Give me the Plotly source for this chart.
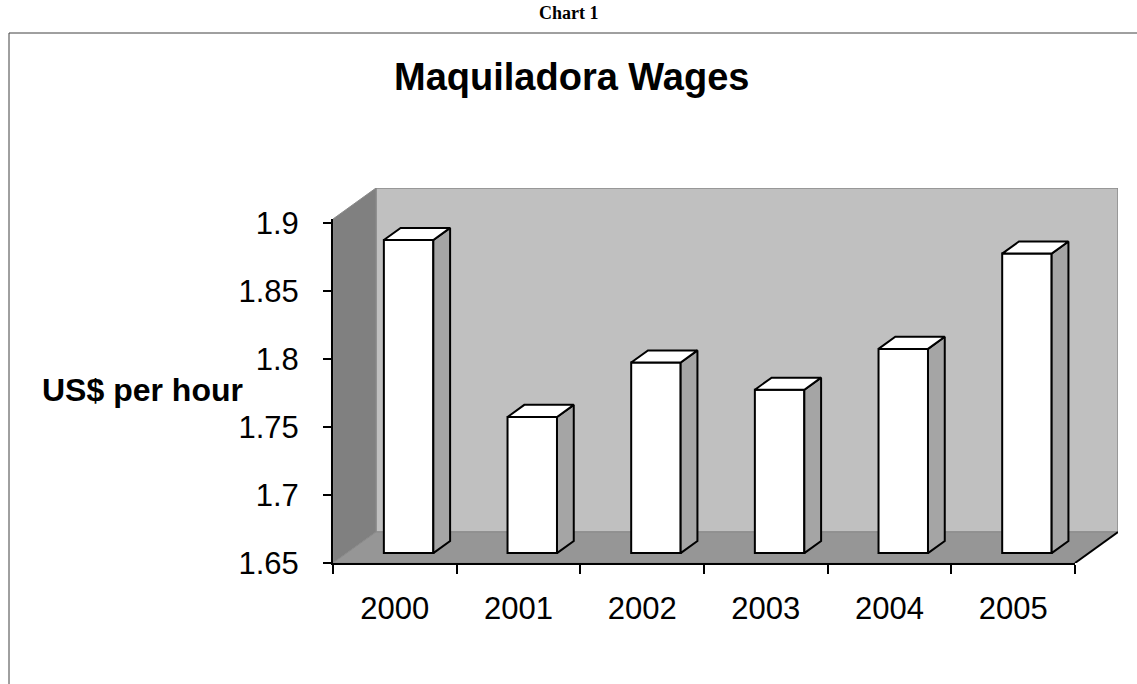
import plotly.graph_objects as go

# ---- data ----
years = ["2000", "2001", "2002", "2003", "2004", "2005"]
wages = [1.88, 1.75, 1.79, 1.77, 1.80, 1.87]
y_ticks = [1.65, 1.7, 1.75, 1.8, 1.85, 1.9]
y_tick_labels = ["1.65", "1.7", "1.75", "1.8", "1.85", "1.9"]
title_text = "Maquiladora Wages"
y_title = "US$ per hour"
header_text = "Chart 1"

# ---- layout geometry (pixels) ----
W, H = 1137, 684
FX0, FX1 = 333, 1075      # front plane left/right
FY0, FY1 = 563, 219       # front plane bottom/top
DX, DY = 43, 31           # depth offset of back wall
YMIN, YTOP = 1.65, 1.9027
D0, D1 = 0.32, 0.71       # bar depth span (fraction)
BW = 0.40                 # bar width (category units)

n = len(years)
px_cat = (FX1 - FX0) / n
px_val = (FY0 - FY1) / (YTOP - YMIN)
ddx = DX / px_cat
ddy = DY / px_val
XL, XR = -0.5, n - 0.5


def P(x, v, d):
    return x + d * ddx, v + d * ddy


def path(pts):
    return "M " + " L ".join(f"{x},{y}" for x, y in pts) + " Z"


BACK = "#c0c0c0"
LEFT = "#808080"
FLOOR = "#969696"
SIDE = "#a5a5a5"
EDGE = "#8a8a8a"

shapes = []
shapes.append(dict(type="path", xref="x", yref="y", layer="below",
                   path=path([P(XL, YMIN, 1), P(XR, YMIN, 1), P(XR, YTOP, 1), P(XL, YTOP, 1)]),
                   fillcolor=BACK, line=dict(color=EDGE, width=1.5)))
shapes.append(dict(type="path", xref="x", yref="y", layer="below",
                   path=path([P(XL, YMIN, 0), P(XL, YTOP, 0), P(XL, YTOP, 1), P(XL, YMIN, 1)]),
                   fillcolor=LEFT, line=dict(color=EDGE, width=1)))
shapes.append(dict(type="path", xref="x", yref="y", layer="below",
                   path=path([P(XL, YMIN, 0), P(XR, YMIN, 0), P(XR, YMIN, 1), P(XL, YMIN, 1)]),
                   fillcolor=FLOOR, line=dict(color=EDGE, width=1)))

fig = go.Figure()

x0, y0 = P(XR, YMIN, 0)
x1, y1 = P(XR, YMIN, 1)
fig.add_trace(go.Scatter(x=[x0, x1], y=[y0, y1], mode="lines",
                         line=dict(color="black", width=2), hoverinfo="skip",
                         showlegend=False, xaxis="x", yaxis="y"))

fig.add_trace(go.Bar(
    x=[i + D0 * ddx for i in range(n)],
    y=[v - YMIN for v in wages],
    base=[YMIN + D0 * ddy] * n,
    width=BW,
    marker=dict(color="white", line=dict(color="black", width=2)),
    hoverinfo="skip", showlegend=False, xaxis="x", yaxis="y"))

for i, v in enumerate(wages):
    xl, xr = i - BW / 2, i + BW / 2
    side = [P(xr, YMIN, D0), P(xr, v, D0), P(xr, v, D1), P(xr, YMIN, D1), P(xr, YMIN, D0)]
    fig.add_trace(go.Scatter(x=[p[0] for p in side], y=[p[1] for p in side],
                             mode="lines", fill="toself", fillcolor=SIDE,
                             line=dict(color="black", width=2), hoverinfo="skip",
                             showlegend=False, xaxis="x", yaxis="y"))
    top = [P(xl, v, D0), P(xr, v, D0), P(xr, v, D1), P(xl, v, D1), P(xl, v, D0)]
    fig.add_trace(go.Scatter(x=[p[0] for p in top], y=[p[1] for p in top],
                             mode="lines", fill="toself", fillcolor="white",
                             line=dict(color="black", width=2), hoverinfo="skip",
                             showlegend=False, xaxis="x", yaxis="y"))

fig.add_trace(go.Scatter(x=years, y=wages, mode="markers", marker=dict(opacity=0),
                         hoverinfo="skip", showlegend=False, xaxis="x2", yaxis="y2"))

shapes.append(dict(type="line", xref="paper", yref="paper",
                   x0=9 / W, y0=1 - 33 / H, x1=1, y1=1 - 33 / H,
                   line=dict(color="#404040", width=1)))
shapes.append(dict(type="line", xref="paper", yref="paper",
                   x0=9 / W, y0=1 - 33 / H, x1=9 / W, y1=0,
                   line=dict(color="#404040", width=1)))

font_main = "Liberation Sans, Arial, sans-serif"

fig.update_layout(
    width=W, height=H,
    autosize=False,
    margin=dict(l=0, r=0, t=0, b=0, pad=0, autoexpand=False),
    paper_bgcolor="white",
    plot_bgcolor="rgba(0,0,0,0)",
    showlegend=False,
    hovermode=False,
    shapes=shapes,
    xaxis=dict(domain=[FX0 / W, (FX1 + DX) / W], range=[XL, XR + ddx],
               visible=False, fixedrange=True, automargin=False),
    yaxis=dict(domain=[1 - FY0 / H, 1 - (FY1 - DY) / H], range=[YMIN, YTOP + ddy],
               visible=False, fixedrange=True, automargin=False),
    xaxis2=dict(domain=[FX0 / W, FX1 / W], anchor="y2", type="category",
                categoryorder="array", categoryarray=years,
                range=[-0.5, n - 0.5], tickson="boundaries",
                ticks="outside", ticklen=9, tickwidth=1.5, tickcolor="black",
                showline=True, linecolor="black", linewidth=2,
                showgrid=False, zeroline=False, ticklabelstandoff=17,
                fixedrange=True, automargin=False,
                tickfont=dict(family=font_main, size=31, color="black")),
    yaxis2=dict(domain=[1 - FY0 / H, 1 - FY1 / H], anchor="x2",
                range=[YMIN, YTOP], tickvals=y_ticks, ticktext=y_tick_labels,
                ticks="outside", ticklen=8, tickwidth=1.5, tickcolor="black",
                showline=True, linecolor="black", linewidth=2,
                showgrid=False, zeroline=False, ticklabelstandoff=18,
                fixedrange=True, automargin=False,
                tickfont=dict(family=font_main, size=31, color="black")),
    annotations=[
        dict(text="<b>" + header_text + "</b>", xref="paper", yref="paper",
             x=569 / W, y=1 - 13 / H, showarrow=False, xanchor="center", yanchor="middle",
             font=dict(family="Liberation Serif, Times New Roman, serif", size=18, color="black")),
        dict(text="<b>" + title_text + "</b>", xref="paper", yref="paper",
             x=571 / W, y=1 - 77 / H, showarrow=False, xanchor="center", yanchor="middle",
             font=dict(family=font_main, size=38, color="black")),
        dict(text="<b>" + y_title + "</b>", xref="paper", yref="paper",
             x=142 / W, y=1 - 390 / H, showarrow=False, xanchor="center", yanchor="middle",
             font=dict(family=font_main, size=32, color="black")),
    ],
)

post = (
    "document.documentElement.style.margin='0px';"
    "document.documentElement.style.overflow='hidden';"
    "document.body.style.margin='0px';"
    "document.body.style.overflow='hidden';"
    "var d=document.getElementById('{plot_id}');"
    "d.style.position='fixed';d.style.top='0px';d.style.left='0px';"
)
fig.write_html("out.html", config={"displayModeBar": False, "responsive": False},
               post_script=post)
